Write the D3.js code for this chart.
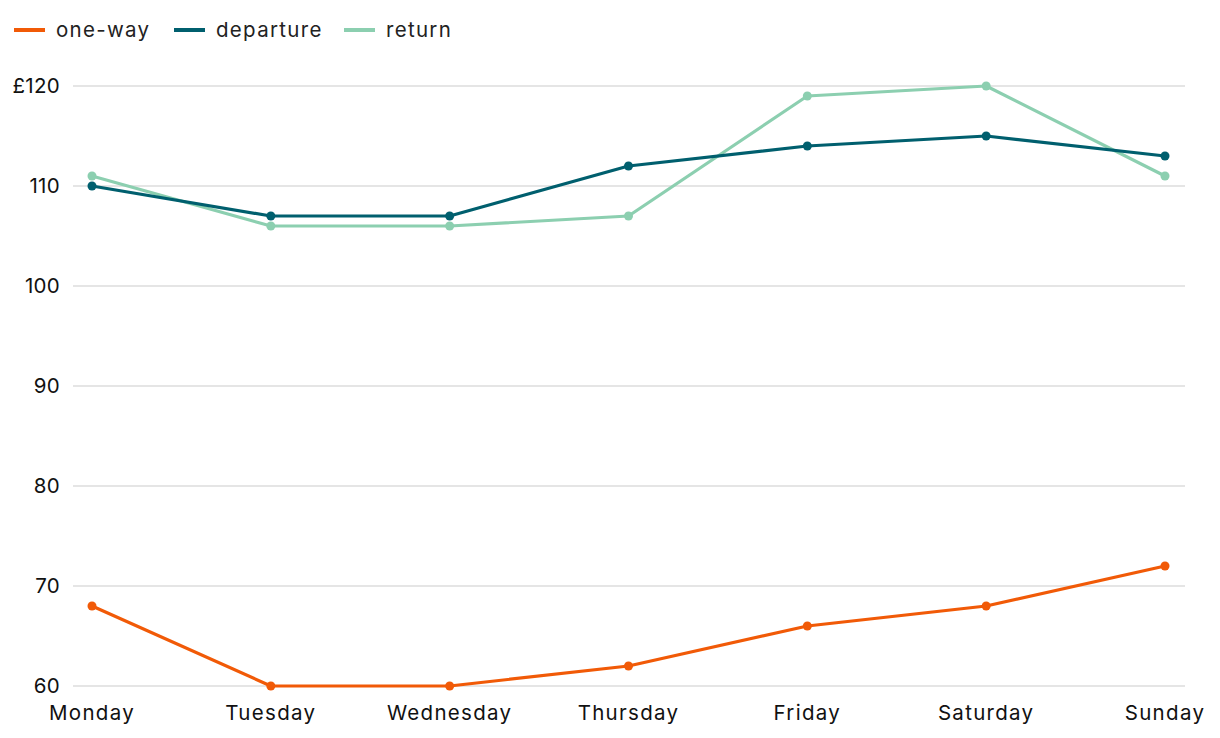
<!DOCTYPE html>
<html><head><meta charset="utf-8">
<script src="https://cdn.jsdelivr.net/npm/d3@7"></script>
<style>body{margin:0;background:#fff}svg{display:block;font-family:Inter,"Noto Sans",sans-serif}</style>
</head><body><svg id="c" width="1220" height="738"></svg>
<script>
const days = ["Monday","Tuesday","Wednesday","Thursday","Friday","Saturday","Sunday"];
const oneWay = [68,60,60,62,66,68,72];
const departure = [110,107,107,112,114,115,113];
const returnVals = [111,106,106,107,119,120,111];
const yTicks = [60,70,80,90,100,110,120];
const seriesNames = ["one-way","departure","return"];
const colors = ["#f15a07","#005f6e","#8ccfb0"];

const svg = d3.select("#c");
const x = d3.scalePoint().domain(days).range([92,1165]);
const y = d3.scaleLinear().domain([60,120]).range([686,86]);

const g = svg.append("g");
g.selectAll("line.grid").data(yTicks).join("line")
  .attr("x1",73).attr("x2",1185).attr("y1",d=>y(d)).attr("y2",d=>y(d))
  .attr("stroke","#dcdcdc").attr("stroke-width",1.5);
g.selectAll("text.yl").data(yTicks).join("text")
  .attr("x",60).attr("y",d=>y(d)).attr("dy","0.35em").attr("text-anchor","end")
  .attr("font-size",20.5).attr("letter-spacing","0.3px").attr("fill","#111")
  .text(d=>d===120?"£120":d);
g.selectAll("text.xl").data(days).join("text")
  .attr("x",d=>x(d)).attr("y",720).attr("text-anchor","middle")
  .attr("font-size",20.5).attr("letter-spacing","1.3px").attr("fill","#111").text(d=>d);

const data = [oneWay, departure, returnVals];
const line = d3.line().x((d,i)=>x(days[i])).y(d=>y(d));
[0,2,1].forEach(k=>{
  const s = svg.append("g");
  s.append("path").attr("d",line(data[k])).attr("fill","none")
    .attr("stroke",colors[k]).attr("stroke-width",3.2).attr("stroke-linejoin","round");
  s.selectAll("circle").data(data[k]).join("circle")
    .attr("cx",(d,i)=>x(days[i])).attr("cy",d=>y(d)).attr("r",4.5).attr("fill",colors[k]);
});

const legX = [14,174,344];
const lg = svg.append("g");
seriesNames.forEach((n,i)=>{
  lg.append("line").attr("x1",legX[i]).attr("x2",legX[i]+31).attr("y1",30).attr("y2",30)
    .attr("stroke",colors[i]).attr("stroke-width",4);
  lg.append("text").attr("x",legX[i]+42).attr("y",30).attr("dy","0.35em")
    .attr("font-size",20.5).attr("letter-spacing","1.3px").attr("fill","#222").text(n);
});
</script></body></html>
